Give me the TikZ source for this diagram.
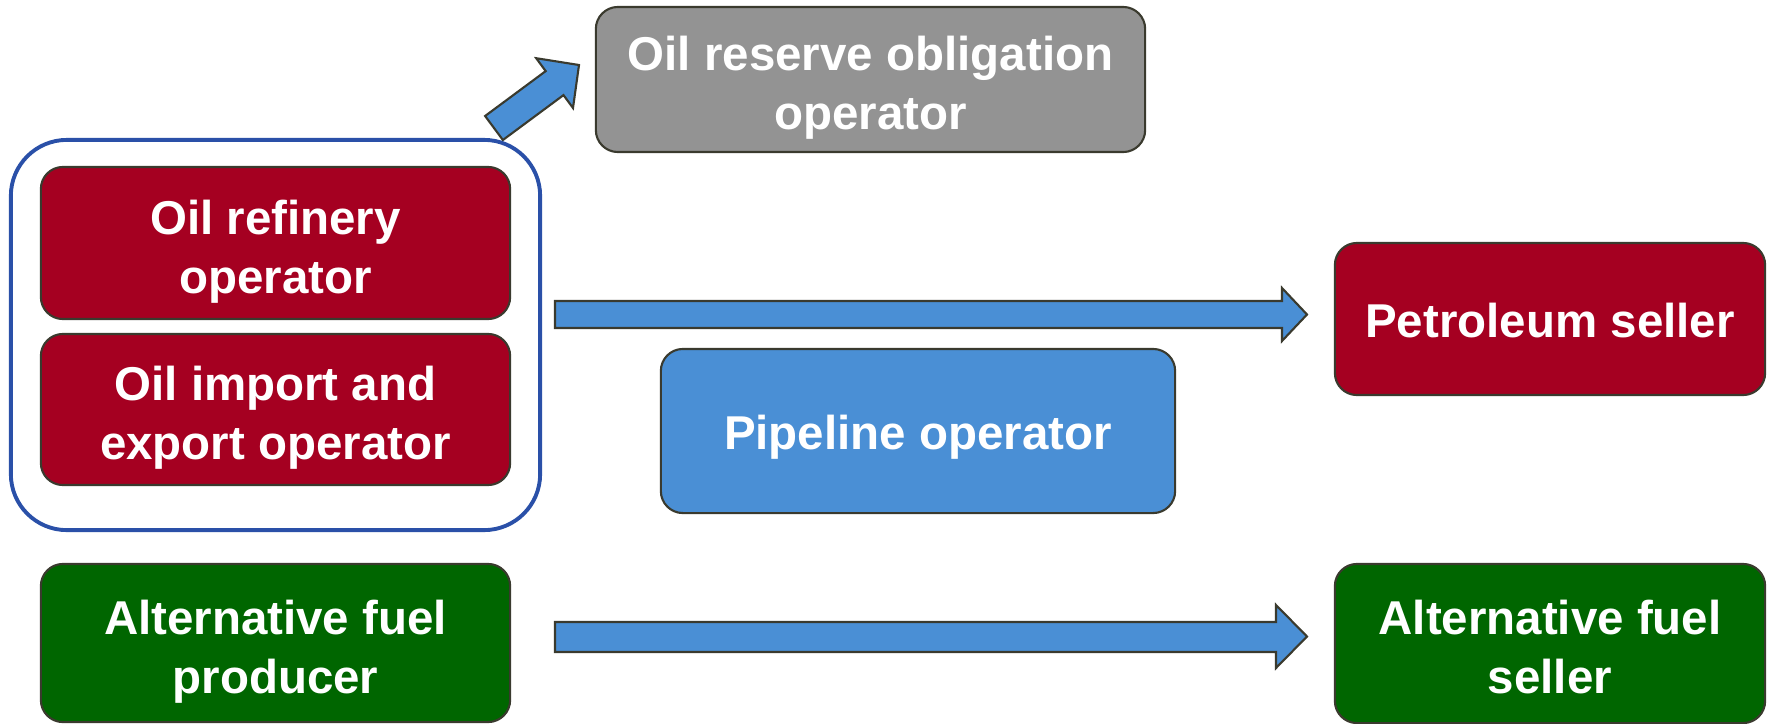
\documentclass[tikz,border=0pt]{standalone}
\usepackage{fontspec}
\setmainfont{Liberation Sans}

\definecolor{oilred}{HTML}{A50021}
\definecolor{fuelgreen}{HTML}{006600}
\definecolor{reservegray}{HTML}{939393}
\definecolor{pipeblue}{HTML}{4A8FD5}
\definecolor{groupblue}{HTML}{2A50A8}
\definecolor{edgegray}{HTML}{3A3A2E}

\begin{document}
\begin{tikzpicture}[x=0.01cm,y=-0.01cm]
\tikzstyle{every node}+=[inner sep=0pt, align=center, text=white, font=\fontsize{13.5}{16.8}\selectfont\bfseries]
\tikzstyle{box}=[draw=edgegray, line width=0.6pt, rounded corners=0.22cm, text depth=2.2pt]
\tikzstyle{oneline}=[text height=12.6pt]
\tikzstyle{twoline}=[text height=30.7pt]
\tikzstyle{blockarrow}=[fill=pipeblue, draw=edgegray, line width=0.6pt, line join=miter]
\useasboundingbox (0,0) rectangle (1769,724);

% oil operators group
\node [draw=groupblue, line width=1.1pt, rounded corners=0.56cm, minimum width=5.29cm, minimum height=3.9cm] (oilgroup) at (275.5,335) {};
\node [box, twoline, fill=oilred, minimum width=4.69cm, minimum height=1.52cm] (refinery) at (275.5,243) {Oil refinery\\operator};
\node [box, twoline, fill=oilred, minimum width=4.69cm, minimum height=1.51cm] (importexport) at (275.5,409.5) {Oil import and\\export operator};
\node [box, twoline, fill=fuelgreen, minimum width=4.69cm, minimum height=1.58cm] (altproducer) at (275.5,643) {Alternative fuel\\producer};

% middle and right column
\node [box, twoline, fill=reservegray, minimum width=5.49cm, minimum height=1.45cm] (reserve) at (870.5,79.5) {Oil reserve obligation\\operator};
\node [box, oneline, fill=pipeblue, minimum width=5.14cm, minimum height=1.64cm] (pipeline) at (918,431) {Pipeline operator};
\node [box, oneline, fill=oilred, minimum width=4.30cm, minimum height=1.52cm] (petroleum) at (1550,319) {Petroleum seller};
\node [box, twoline, fill=fuelgreen, minimum width=4.30cm, minimum height=1.59cm] (altseller) at (1550,643.5) {Alternative fuel\\seller};

% block arrows
\draw [blockarrow] (502.9,140) -- (563.5,95.1) -- (573,108) -- (579,65) -- (536.2,58.2) -- (545.7,71.1) -- (485.1,116) -- cycle;
\draw [blockarrow] (555,301) -- (1282,301) -- (1282,288) -- (1307,314.5) -- (1282,341) -- (1282,328) -- (555,328) -- cycle;
\draw [blockarrow] (555,622) -- (1276,622) -- (1276,605) -- (1307,636.5) -- (1276,668) -- (1276,652) -- (555,652) -- cycle;

\end{tikzpicture}
\end{document}
